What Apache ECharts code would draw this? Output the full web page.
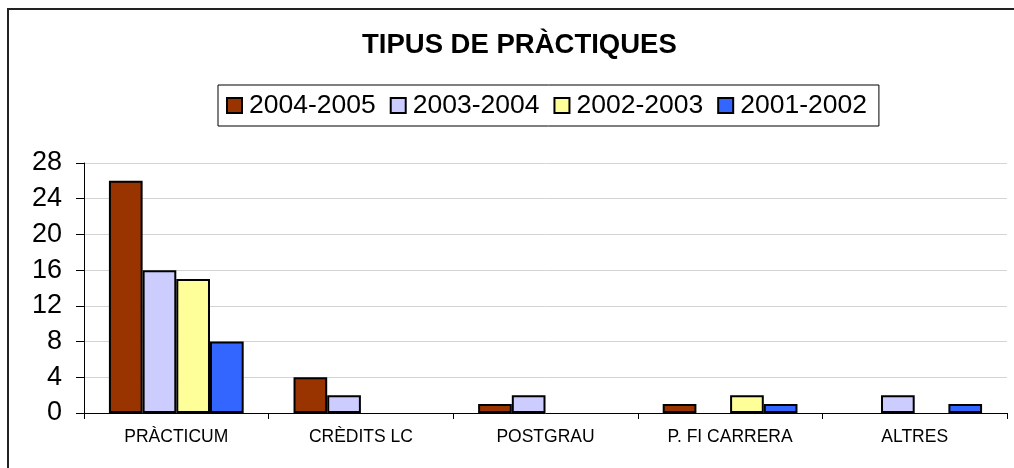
<!DOCTYPE html>
<html>
<head>
<meta charset="utf-8">
<script src="https://cdn.jsdelivr.net/npm/echarts@6/dist/echarts.min.js"></script>
<style>
  html, body { margin: 0; padding: 0; background: #fff; }
  #chart { width: 1014px; height: 468px; }
</style>
</head>
<body>
<div id="chart"></div>
<script>
// dades llegides del gràfic
var categories = ['PRÀCTICUM', 'CRÈDITS LC', 'POSTGRAU', 'P. FI CARRERA', 'ALTRES']
var years = ['2004-2005', '2003-2004', '2002-2003', '2001-2002']
var v2004 = [26, 4, 1, 1, 0]
var v2003 = [16, 2, 2, 0, 2]
var v2002 = [15, 0, 0, 2, 0]
var v2001 = [8, 0, 0, 1, 1]
var colors = ['#993300', '#ccccff', '#ffff99', '#3366ff']

var font = "'Liberation Sans', Arial, sans-serif"
var values = [v2004, v2003, v2002, v2001]

var series = []
for (var i = 0; i < years.length; i++) {
  // les barres a zero no han de pintar la vora
  var items = values[i].map(function (v) {
    return v === 0 ? { value: v, itemStyle: { borderWidth: 0 } } : v
  })
  series.push({
    name: years[i],
    type: 'bar',
    data: items,
    barGap: 0,
    barCategoryGap: '27%',
    itemStyle: {
      color: colors[i],
      borderColor: '#000',
      borderWidth: 2
    }
  })
}

var option = {
  animation: false,
  textStyle: { fontFamily: font },
  title: {
    text: 'TIPUS DE PRÀCTIQUES',
    left: 362,
    top: 31,
    padding: 0,
    textStyle: { fontSize: 27.5, fontWeight: 'bold', color: '#000', fontFamily: font }
  },
  legend: {
    data: years,
    left: 218,
    top: 85,
    padding: [7, 12, 7, 8],
    borderColor: '#000',
    borderWidth: 1,
    itemWidth: 15,
    itemHeight: 15,
    itemGap: 14,
    icon: 'rect',
    textStyle: { fontSize: 26.5, color: '#000', fontFamily: font, padding: [0, 0, 0, 2] }
  },
  graphic: [
    {
      type: 'rect',
      shape: { x: 8, y: 9, width: 1100, height: 600 },
      style: { fill: 'none', stroke: '#222', lineWidth: 2 },
      silent: true
    }
  ],
  grid: { left: 84, right: 7, top: 163, bottom: 55, containLabel: false },
  xAxis: {
    type: 'category',
    data: categories,
    axisLine: { lineStyle: { color: '#000', width: 1 } },
    axisTick: { show: true, length: 6, lineStyle: { color: '#000' } },
    axisLabel: { fontSize: 17.5, color: '#000', margin: 15, fontFamily: font }
  },
  yAxis: {
    type: 'value',
    min: 0,
    max: 28,
    interval: 4,
    axisLine: { show: true, lineStyle: { color: '#000', width: 1 } },
    axisTick: { show: true, length: 8, lineStyle: { color: '#000' } },
    axisLabel: { fontSize: 27, color: '#000', margin: 22, fontFamily: font },
    splitLine: { lineStyle: { color: '#d4d4d4', width: 1 } }
  },
  series: series
}

var chart = echarts.init(document.getElementById('chart'))
chart.setOption(option)
</script>
</body>
</html>
